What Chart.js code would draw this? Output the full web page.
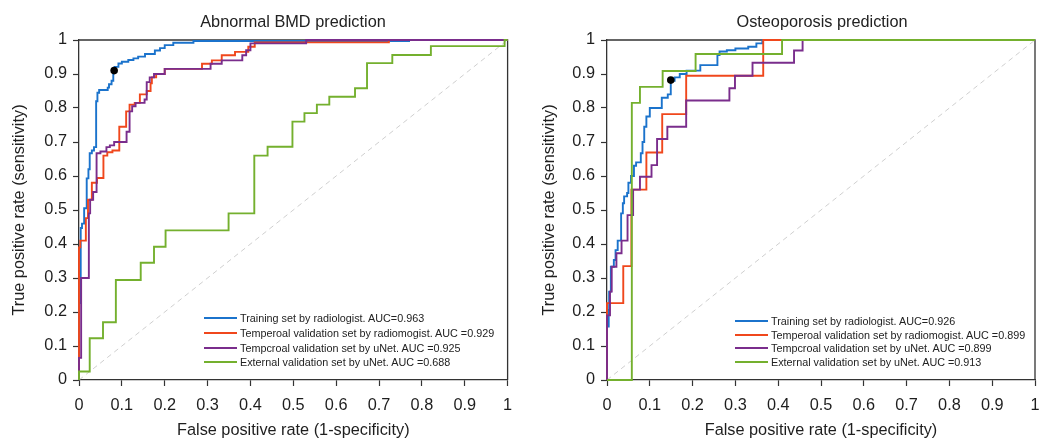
<!DOCTYPE html>
<html><head><meta charset="utf-8">
<script src="https://cdn.jsdelivr.net/npm/chart.js@4.4.1/dist/chart.umd.min.js"></script>
<style>
html,body{margin:0;padding:0;background:#fff;}
body{width:1039px;height:440px;position:relative;overflow:hidden;font-family:"Liberation Sans",Arial,Helvetica,sans-serif;color:#222;}
.cv{position:absolute;top:0;}
.ttl{position:absolute;top:11px;font-size:16.3px;line-height:20px;white-space:nowrap;transform:translateX(-50%);color:#222;}
.leg{position:absolute;font-size:10.8px;color:#222;}
.leg .row{position:absolute;left:0;white-space:nowrap;height:14px;line-height:14px;}
.leg .ln{position:absolute;left:0;top:6px;width:33px;height:2px;}
.leg .tx{position:absolute;left:36px;top:0;}
</style></head><body>
<div class="cv" style="left:0"><canvas id="c1" width="530" height="440"></canvas></div>
<div class="cv" style="left:530px"><canvas id="c2" width="509" height="440"></canvas></div>
<div class="ttl" id="t1" style="left:293px"></div>
<div class="ttl" id="t2" style="left:822px"></div>
<div class="leg" id="l1" style="left:204px;top:311px"></div>
<div class="leg" id="l2" style="left:735px;top:314px"></div>
<script>
// ---------- data ----------
const titles = ["Abnormal BMD prediction", "Osteoporosis prediction"];
const xTitle = "False positive rate (1-specificity)";
const yTitle = "True positive rate (sensitivity)";
const tickValues = [0, 0.1, 0.2, 0.3, 0.4, 0.5, 0.6, 0.7, 0.8, 0.9, 1];

const leftLabels = [
  "Training set by radiologist. AUC=0.963",
  "Temperoal validation set by radiomogist. AUC =0.929",
  "Tempcroal validation set by uNet. AUC =0.925",
  "External validation set by uNet. AUC =0.688"
];
const rightLabels = [
  "Training set by radiologist. AUC=0.926",
  "Temperoal validation set by radiomogist. AUC =0.899",
  "Tempcroal validation set by uNet. AUC =0.899",
  "External validation set by uNet. AUC =0.913"
];

// ROC step vertices: curve rises at previous FPR to this TPR, then runs right to this FPR
const leftBlueX = [0, 0.004, 0.007, 0.012, 0.018, 0.022, 0.025, 0.030, 0.035, 0.040, 0.043, 0.047, 0.067, 0.070, 0.076, 0.080, 0.083, 0.092, 0.100, 0.115, 0.127, 0.138, 0.154, 0.177, 0.189, 0.200, 0.220, 0.267, 0.275, 0.770, 1];
const leftBlueY = [0, 0.226, 0.447, 0.460, 0.505, 0.593, 0.620, 0.667, 0.675, 0.685, 0.820, 0.845, 0.853, 0.860, 0.870, 0.880, 0.910, 0.921, 0.931, 0.936, 0.941, 0.946, 0.951, 0.959, 0.969, 0.976, 0.985, 0.992, 0.997, 0.997, 1];
const leftRedX = [0, 0.003, 0.016, 0.021, 0.030, 0.042, 0.057, 0.066, 0.078, 0.094, 0.110, 0.118, 0.130, 0.142, 0.158, 0.167, 0.170, 0.180, 0.200, 0.287, 0.310, 0.333, 0.364, 0.395, 0.410, 0.723, 1];
const leftRedY = [0, 0.390, 0.410, 0.476, 0.530, 0.580, 0.594, 0.660, 0.670, 0.675, 0.745, 0.790, 0.810, 0.815, 0.840, 0.850, 0.873, 0.890, 0.900, 0.915, 0.930, 0.940, 0.955, 0.965, 0.980, 0.993, 1];
const leftPurpleX = [0, 0.005, 0.023, 0.026, 0.033, 0.041, 0.050, 0.064, 0.072, 0.082, 0.111, 0.118, 0.124, 0.132, 0.153, 0.158, 0.165, 0.175, 0.200, 0.307, 0.333, 0.381, 0.390, 0.400, 0.530, 1];
const leftPurpleY = [0, 0.065, 0.300, 0.490, 0.530, 0.553, 0.667, 0.672, 0.685, 0.690, 0.700, 0.730, 0.790, 0.805, 0.815, 0.825, 0.876, 0.890, 0.900, 0.915, 0.930, 0.940, 0.955, 0.970, 0.990, 1];
const leftGreenX = [0, 0.025, 0.056, 0.086, 0.144, 0.175, 0.202, 0.349, 0.409, 0.440, 0.498, 0.526, 0.555, 0.584, 0.644, 0.672, 0.731, 0.821, 0.993, 1];
const leftGreenY = [0, 0.025, 0.123, 0.170, 0.294, 0.345, 0.392, 0.440, 0.490, 0.660, 0.686, 0.760, 0.785, 0.810, 0.833, 0.858, 0.932, 0.956, 0.982, 1];
const leftCutoff = [0.082, 0.910];

const rightBlueX = [0, 0.004, 0.005, 0.009, 0.016, 0.020, 0.025, 0.033, 0.037, 0.040, 0.047, 0.050, 0.056, 0.063, 0.068, 0.079, 0.083, 0.087, 0.092, 0.100, 0.128, 0.142, 0.149, 0.158, 0.170, 0.186, 0.218, 0.258, 0.263, 0.280, 0.300, 0.330, 0.349, 0.363, 1];
const rightBlueY = [0, 0.157, 0.206, 0.260, 0.333, 0.353, 0.382, 0.410, 0.490, 0.520, 0.540, 0.550, 0.580, 0.600, 0.630, 0.640, 0.667, 0.700, 0.745, 0.775, 0.800, 0.830, 0.840, 0.880, 0.890, 0.900, 0.910, 0.926, 0.956, 0.966, 0.970, 0.975, 0.980, 0.990, 1];
const rightRedX = [0, 0.038, 0.057, 0.092, 0.129, 0.185, 0.365, 1];
const rightRedY = [0, 0.226, 0.335, 0.560, 0.669, 0.782, 0.895, 1];
const rightPurpleX = [0, 0.007, 0.011, 0.022, 0.034, 0.048, 0.061, 0.077, 0.104, 0.117, 0.141, 0.185, 0.286, 0.299, 0.340, 0.437, 0.457, 1];
const rightPurpleY = [0, 0.190, 0.260, 0.333, 0.373, 0.410, 0.485, 0.560, 0.598, 0.632, 0.709, 0.745, 0.822, 0.858, 0.895, 0.933, 0.969, 1];
const rightGreenX = [0, 0.058, 0.077, 0.130, 0.207, 0.409, 1];
const rightGreenY = [0, 0, 0.815, 0.862, 0.909, 0.959, 1];
const rightCutoff = [0.149, 0.882];

// ---------- styling ----------
const colors = ["#1b73cc", "#f0471c", "#7a2d8c", "#74b02e"];
const axisColor = "#333333";
const textColor = "#1e1e1e";
const FONT = '"Liberation Sans", Arial, Helvetica, sans-serif';

function stepPoints(xs, ys) {
  const pts = [{x: xs[0], y: ys[0]}];
  for (let i = 1; i < xs.length; i++) {
    pts.push({x: xs[i - 1], y: ys[i]});
    pts.push({x: xs[i], y: ys[i]});
  }
  return pts;
}

const framePlugin = {
  id: 'frame',
  beforeDatasetsDraw(chart) {
    const {ctx, chartArea: a} = chart;
    ctx.save();
    ctx.strokeStyle = axisColor;
    ctx.lineWidth = 1.3;
    ctx.beginPath();
    ctx.moveTo(a.left, a.top);
    ctx.lineTo(a.right, a.top);
    ctx.lineTo(a.right, a.bottom);
    ctx.stroke();
    ctx.restore();
  }
};

function makeChart(id, series, cutoff, yWidth, padRight, yTitlePad) {
  const datasets = [];
  datasets.push({
    data: [{x: cutoff[0], y: cutoff[1]}], showLine: false, pointRadius: 3.8,
    pointBackgroundColor: "#000", pointBorderColor: "#000", pointBorderWidth: 0, order: 0, clip: false
  });
  series.forEach((s, i) => {
    datasets.push({
      data: stepPoints(s[0], s[1]), borderColor: colors[i], borderWidth: 1.9,
      pointRadius: 0, fill: false, tension: 0, order: 4 - i, clip: false, borderJoinStyle: 'miter'
    });
  });
  datasets.push({
    data: [{x: 0, y: 0}, {x: 1, y: 1}], borderColor: "#cfcfcf", borderWidth: 1,
    borderDash: [5, 4], pointRadius: 0, order: 10, fill: false
  });
  return new Chart(document.getElementById(id), {
    type: 'line',
    data: {datasets},
    plugins: [framePlugin],
    options: {
      responsive: false, animation: false, devicePixelRatio: 1,
      layout: {padding: {top: 40, right: padRight, left: 0, bottom: 0}},
      plugins: {legend: {display: false}, tooltip: {enabled: false}, title: {display: false}},
      scales: {
        x: {
          type: 'linear', min: 0, max: 1,
          afterBuildTicks: s => { s.ticks = tickValues.map(v => ({value: v})); },
          ticks: {color: textColor, font: {family: FONT, size: 16.3}, padding: 10, maxRotation: 0, autoSkip: false,
            callback: v => String(Math.round(v * 10) / 10)},
          grid: {drawOnChartArea: false, drawTicks: true, tickLength: 6, color: axisColor, tickWidth: 1.2},
          border: {color: axisColor, width: 1.3},
          title: {display: true, text: xTitle, color: textColor, font: {family: FONT, size: 16.3}, padding: {top: 0, bottom: 0}},
          afterFit: s => { s.height = 60; s.paddingLeft = 0; s.paddingRight = 0; }
        },
        y: {
          type: 'linear', min: 0, max: 1,
          afterBuildTicks: s => { s.ticks = tickValues.map(v => ({value: v})); },
          ticks: {color: textColor, font: {family: FONT, size: 16.3}, padding: 6, autoSkip: false,
            callback: v => String(Math.round(v * 10) / 10)},
          grid: {drawOnChartArea: false, drawTicks: true, tickLength: 6, color: axisColor, tickWidth: 1.2},
          border: {color: axisColor, width: 1.3},
          title: {display: true, text: yTitle, color: textColor, font: {family: FONT, size: 16.3}, padding: {top: yTitlePad, bottom: 0}},
          afterFit: s => { s.width = yWidth; s.paddingTop = 0; s.paddingBottom = 0; }
        }
      }
    }
  });
}

makeChart('c1', [[leftBlueX, leftBlueY], [leftRedX, leftRedY], [leftPurpleX, leftPurpleY], [leftGreenX, leftGreenY]],
  leftCutoff, 79, 530 - 507.6, 10);
makeChart('c2', [[rightBlueX, rightBlueY], [rightRedX, rightRedY], [rightPurpleX, rightPurpleY], [rightGreenX, rightGreenY]],
  rightCutoff, 77, 509 - 506.7, 10);

document.getElementById('t1').textContent = titles[0];
document.getElementById('t2').textContent = titles[1];

function buildLegend(id, labels, rowTops) {
  const el = document.getElementById(id);
  labels.forEach((lab, i) => {
    const r = document.createElement('div');
    r.className = 'row';
    r.style.top = rowTops[i] + 'px';
    const ln = document.createElement('div');
    ln.className = 'ln';
    ln.style.background = colors[i];
    const tx = document.createElement('div');
    tx.className = 'tx';
    tx.textContent = lab;
    r.appendChild(ln); r.appendChild(tx);
    el.appendChild(r);
  });
}
buildLegend('l1', leftLabels, [0, 15, 30, 44]);
buildLegend('l2', rightLabels, [0, 14, 27, 41]);
</script>
</body></html>
